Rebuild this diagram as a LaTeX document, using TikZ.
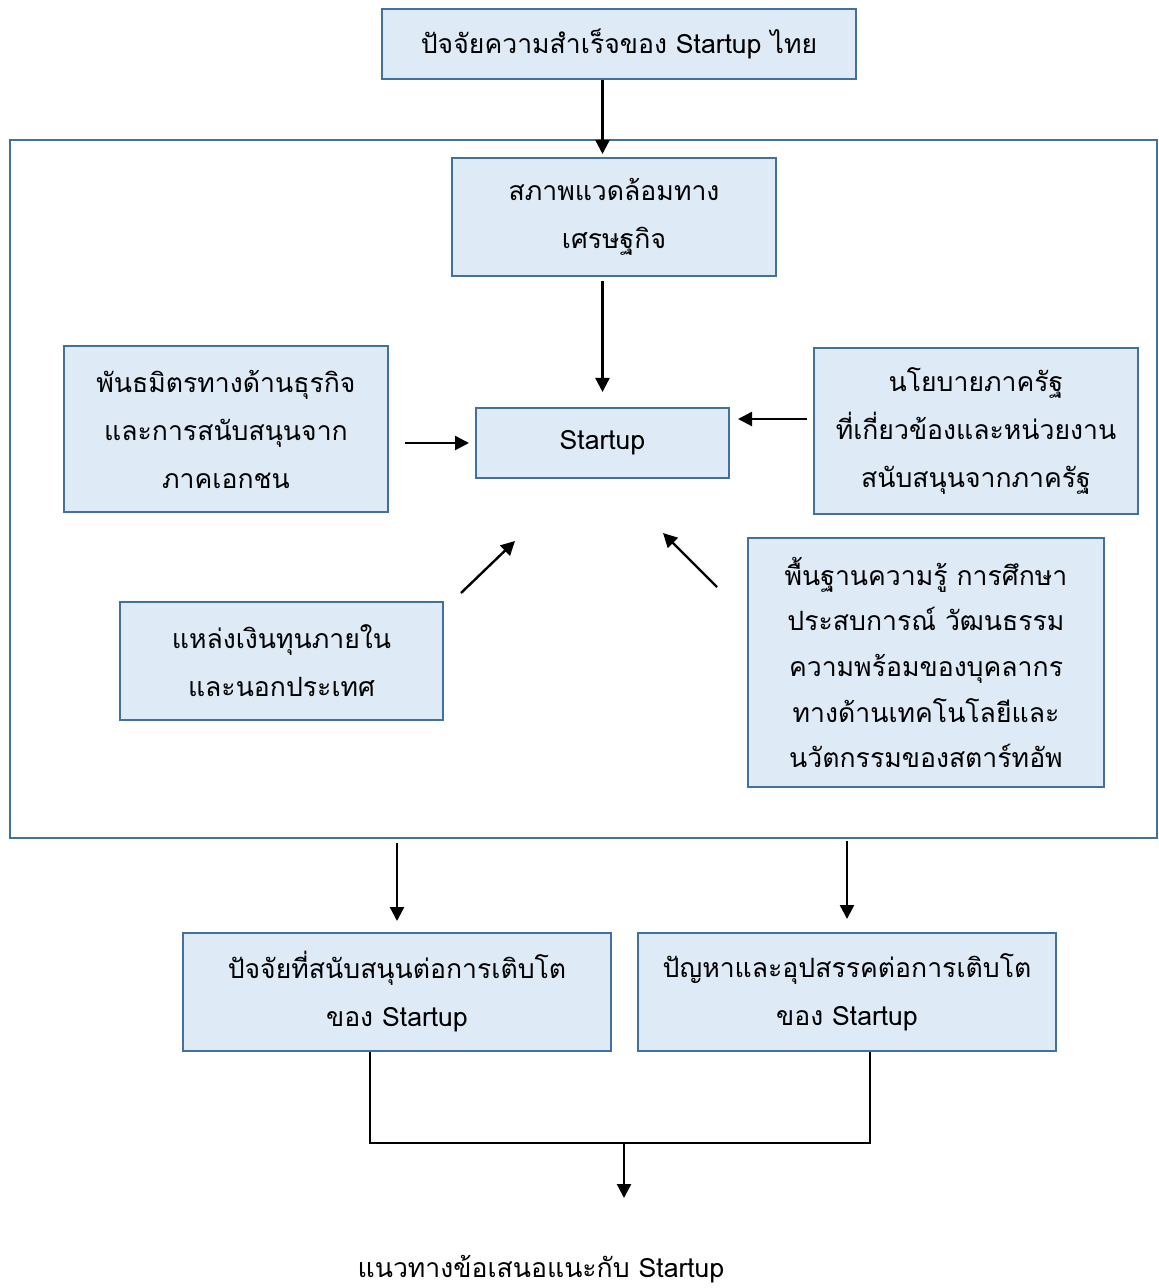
\documentclass[tikz,border=0pt]{standalone}
\usepackage{fontspec}
\newfontfamily\thaifont[Script=Thai]{Loma}
\usetikzlibrary{arrows.meta,positioning}
\definecolor{boxfill}{HTML}{DEEAF6}
\definecolor{boxline}{HTML}{41719C}

\begin{document}
\begin{tikzpicture}[
  x=0.5pt,y=-0.5pt,
  font=\thaifont\fontsize{13.3}{24}\selectfont,
  box/.style={draw=boxline,line width=1pt,fill=boxfill,align=center,inner sep=0pt},
  outer/.style={draw=boxline,line width=0.8pt},
  flow/.style={-{Triangle[length=7pt,width=7pt]},line width=1.2pt},
  bracket/.style={line width=0.6pt}
]
\useasboundingbox (0,0) rectangle (1159,1288);

\node[outer,minimum width=573.5pt,minimum height=349pt] (frame) at (583.5,489) {};
\node[box,minimum width=237pt,minimum height=35pt] (goal) at (619,44)
  {ปัจจัยความสำเร็จของ Startup ไทย};
\node[box,minimum width=162pt,minimum height=59pt] (econ) at (614,217)
  {สภาพแวดล้อมทาง\\เศรษฐกิจ};
\node[box,minimum width=126.5pt,minimum height=35pt] (startup) at (602.5,443) {Startup};
\node[box,minimum width=162pt,minimum height=83pt] (partner) at (226,429)
  {พันธมิตรทางด้านธุรกิจ\\และการสนับสนุนจาก\\ภาคเอกชน};
\node[box,minimum width=162pt,minimum height=83pt] (policy) at (976,431)
  {นโยบายภาครัฐ\\ที่เกี่ยวข้องและหน่วยงาน\\สนับสนุนจากภาครัฐ};
\node[box,minimum width=161.5pt,minimum height=59pt] (funds) at (281.5,661)
  {แหล่งเงินทุนภายใน\\และนอกประเทศ};
\node[box,minimum width=178pt,minimum height=124.5pt,
  font=\thaifont\fontsize{13.3}{22.8}\selectfont] (know) at (926,662.5)
  {พื้นฐานความรู้ การศึกษา\\ประสบการณ์ วัฒนธรรม\\ความพร้อมของบุคลากร\\ทางด้านเทคโนโลยีและ\\นวัตกรรมของสตาร์ทอัพ};
\node[box,minimum width=214pt,minimum height=59pt] (support) at (397,992)
  {ปัจจัยที่สนับสนุนต่อการเติบโต\\ของ Startup};
\node[box,minimum width=209pt,minimum height=59pt] (problem) at (847,992)
  {ปัญหาและอุปสรรคต่อการเติบโต\\ของ Startup};
\node (advice) at (541,1269) {แนวทางข้อเสนอแนะกับ Startup};
\coordinate (merge) at (624,1143);

% arrows into the frame
\draw[flow,shorten >=1.5pt] (goal.south -| startup.north) -- (econ.north -| startup.north);
\draw[flow,shorten <=2pt,shorten >=7.5pt] (econ.south -| startup.north) -- (startup.north);
\draw[flow,shorten <=8pt,shorten >=3pt] (partner.east |- startup.west) -- (startup.west);
\draw[flow,shorten <=3pt,shorten >=4pt] ([yshift=6pt]policy.west)
  -- ([yshift=6pt]policy.west -| startup.east);
\draw[flow] ([shift={(17,-8)}]funds.north east) -- ([shift={(40,62)}]startup.south west);
\draw[flow] ([shift={(-30,50)}]know.north west) -- ([shift={(-67,54)}]startup.south east);

% results
\draw[flow,shorten <=2pt,shorten >=5.5pt] (frame.south -| support.north) -- (support.north);
\draw[flow,shorten <=1pt,shorten >=6.5pt] (frame.south -| problem.north) -- (problem.north);
\draw[bracket] ([xshift=-13.5pt]support.south) |- (merge) -| ([xshift=11.5pt]problem.south);
\draw[flow] (merge) -- ++(0,55);
\end{tikzpicture}
\end{document}
